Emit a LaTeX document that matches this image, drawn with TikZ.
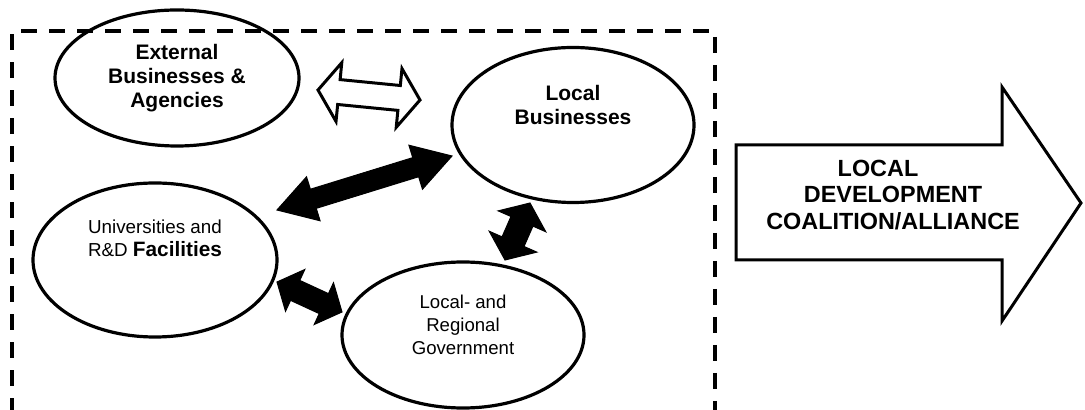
\documentclass[tikz,border=0pt]{standalone}
\usepackage{fontspec}
\setmainfont{Liberation Sans}
\usetikzlibrary{calc,shapes.geometric}

\newcommand{\twoway}[6][]{%
	\coordinate (hA) at ($(#2)!#6!(#3)$);
	\coordinate (hB) at ($(#3)!#6!(#2)$);
	\draw[#1] (#2) -- ($(hA)!#5!90:(#3)$) -- ($(hA)!#4!90:(#3)$)
		-- ($(hB)!#4!-90:(#2)$) -- ($(hB)!#5!-90:(#2)$) -- (#3)
		-- ($(hB)!#5!90:(#2)$) -- ($(hB)!#4!90:(#2)$)
		-- ($(hA)!#4!-90:(#3)$) -- ($(hA)!#5!-90:(#3)$) -- cycle;
}

\tikzset{
	blob/.style = {ellipse, draw, line width=1.6pt, inner sep=0pt, minimum width=121pt},
	bigtxt/.style = {align=center, font=\bfseries\fontsize{10.5}{12}\selectfont},
	smalltxt/.style = {align=center, font=\fontsize{9.3}{11.5}\selectfont},
	solidarrow/.style = {fill=black, draw=black, line width=0.5pt, line join=miter},
	openarrow/.style = {fill=white, draw=black, line width=1.5pt, line join=miter}
}

\begin{document}
\begin{tikzpicture}[x=0.5pt, y=-0.5pt]
		\useasboundingbox (0,0) rectangle (1085,410);
		\draw[line width=2pt, dash pattern=on 8pt off 6pt] (12,414) -- (12,31) -- (715,31) -- (715,414);

		\node[blob, minimum width=122pt, minimum height=68pt, bigtxt] (ext) at (177,78) {External\\Businesses \&\\Agencies};
		\node[blob, minimum height=77.5pt] (biz) at (573,125) {};
		\node[bigtxt] (biztxt) at ([yshift=10pt]biz.center) {Local\\Businesses};
		\node[blob, minimum width=122pt, minimum height=77pt] (univ) at (155,260) {};
		\node[smalltxt, font=\fontsize{9.4}{11.5}\selectfont] (univtxt) at ([yshift=11pt]univ.center) {Universities and\\R\&D {\bfseries\fontsize{10.4}{11.5}\selectfont Facilities}};
		\node[blob, minimum height=73pt] (gov) at (463,335) {};
		\node[smalltxt] (govtxt) at ([yshift=5pt]gov.center) {Local- and\\Regional\\Government};

		\coordinate (ext-e) at (318,90);
		\coordinate (biz-nw) at (420,100);
		\twoway[openarrow]{ext-e}{biz-nw}{6.25pt}{14.75pt}{10.5pt}

		\coordinate (univ-ne) at (277,210);
		\coordinate (biz-w) at (452,156);
		\twoway[solidarrow]{univ-ne}{biz-w}{5pt}{11.5pt}{19pt}

		\coordinate (biz-s) at (530,203);
		\coordinate (gov-n) at (505,260);
		\twoway[solidarrow]{biz-s}{gov-n}{6pt}{13pt}{10pt}

		\coordinate (univ-e) at (277,282);
		\coordinate (gov-w) at (342,312);
		\twoway[solidarrow]{univ-e}{gov-w}{5.5pt}{11.5pt}{10pt}

		\draw[line width=1.5pt, line join=miter, fill=white] (736,145) -- (1002,145) -- (1002,87) -- (1081,203)
			-- (1002,321) -- (1002,260) -- (736,260) -- cycle;
		\node[align=center, font=\bfseries\fontsize{11.7}{13.3}\selectfont] (coal) at (893,195) {LOCAL\rule{15pt}{0pt}\\DEVELOPMENT\\COALITION/ALLIANCE};
\end{tikzpicture}
\end{document}
